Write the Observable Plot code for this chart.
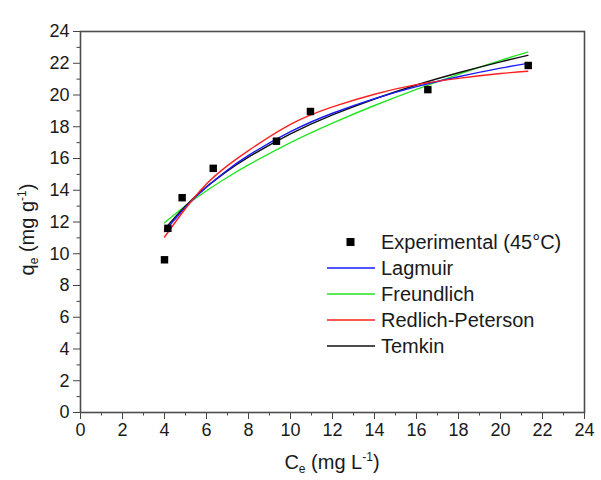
<!DOCTYPE html>
<html>
<head>
<meta charset="utf-8">
<script src="https://cdn.jsdelivr.net/npm/d3@7"></script>
<script src="https://cdn.jsdelivr.net/npm/@observablehq/plot@0.6"></script>
<style>
  body { margin: 0; background: #fff; }
</style>
</head>
<body>
<div id="chart"></div>
<script>
// Equilibrium concentration Ce (mg/L) and uptake qe (mg/g) at 45 °C
const expCe = [4.00, 4.16, 4.84, 6.32, 9.33, 10.95, 16.54, 21.32];
const expQe = [9.62, 11.60, 13.53, 15.38, 17.09, 18.96, 20.34, 21.86];

// Fitted isotherm curves, sampled along Ce
const fitCe        = [4, 5, 6, 7, 8, 10, 12, 14, 16, 18, 20, 21.3];
const langmuirQe   = [11.40, 12.93, 14.21, 15.28, 16.20, 17.69, 18.85, 19.77, 20.53, 21.15, 21.69, 21.99];
const freundlichQe = [11.95, 13.02, 13.97, 14.82, 15.60, 17.00, 18.23, 19.34, 20.36, 21.30, 22.18, 22.70];
const redlichQe    = [11.05, 12.85, 14.40, 15.55, 16.50, 18.15, 19.25, 20.05, 20.65, 21.05, 21.35, 21.50];
const temkinQe     = [11.55, 13.01, 14.21, 15.22, 16.09, 17.55, 18.75, 19.75, 20.63, 21.40, 22.09, 22.50];

const majorTicks = [0, 2, 4, 6, 8, 10, 12, 14, 16, 18, 20, 22, 24];
const minorTicks = [1, 3, 5, 7, 9, 11, 13, 15, 17, 19, 21, 23];

const seriesNames  = ["Lagmuir", "Freundlich", "Redlich-Peterson", "Temkin"];
const seriesColors = ["#1a1aff", "#22e622", "#ff1f1f", "#111111"];
const expLabel = "Experimental (45°C)";

const experimental = expCe.map((c, i) => ({ce: c, qe: expQe[i]}));
const curves = [langmuirQe, freundlichQe, redlichQe, temkinQe].map((qs, k) =>
  fitCe.map((c, i) => ({ce: c, qe: qs[i], model: seriesNames[k]}))
);

const FONT = "'Liberation Sans', Arial, sans-serif";

// Legend drawn inside the frame
function legend(index, scales, values, dims) {
  const g = d3.create("svg:g")
    .attr("font-family", FONT)
    .attr("font-size", 20)
    .attr("text-anchor", "start")
    .attr("fill", "#1a1a1a");
  const x0 = dims.marginLeft + 247;
  const y0 = dims.marginTop + 211;
  const rowH = 26;
  g.append("rect")
    .attr("x", x0 + 19.5).attr("y", y0 - 4)
    .attr("width", 8).attr("height", 8)
    .attr("fill", "#000");
  g.append("text")
    .attr("x", x0 + 54).attr("y", y0)
    .attr("dy", "0.35em")
    .text(expLabel);
  seriesNames.forEach((name, i) => {
    const y = y0 + rowH * (i + 1);
    g.append("line")
      .attr("x1", x0).attr("x2", x0 + 48)
      .attr("y1", y).attr("y2", y)
      .attr("stroke", seriesColors[i])
      .attr("stroke-width", 1.4);
    g.append("text")
      .attr("x", x0 + 54).attr("y", y)
      .attr("dy", "0.35em")
      .text(name);
  });
  return g.node();
}

// Axis titles with sub/superscripts
function axisTitles(index, scales, values, dims) {
  const g = d3.create("svg:g")
    .attr("font-family", FONT)
    .attr("font-size", 20)
    .attr("fill", "#1a1a1a");
  const cx = (dims.marginLeft + dims.width - dims.marginRight) / 2;
  const xt = g.append("text")
    .attr("x", cx).attr("y", dims.height - 11)
    .attr("text-anchor", "middle");
  xt.append("tspan").text("C");
  xt.append("tspan").attr("font-size", 12).attr("dy", 4).text("e");
  xt.append("tspan").attr("dy", -4).text(" (mg L");
  xt.append("tspan").attr("font-size", 12).attr("dy", -8).text("-1");
  xt.append("tspan").attr("dy", 8).text(")");

  const cy = (dims.marginTop + dims.height - dims.marginBottom) / 2 + 8;
  const yt = g.append("text")
    .attr("transform", `translate(34,${cy}) rotate(-90)`)
    .attr("text-anchor", "middle");
  yt.append("tspan").text("q");
  yt.append("tspan").attr("font-size", 12).attr("dy", 4).text("e");
  yt.append("tspan").attr("dy", -4).text(" (mg g");
  yt.append("tspan").attr("font-size", 12).attr("dy", -8).text("-1");
  yt.append("tspan").attr("dy", 8).text(")");
  return g.node();
}

const chart = Plot.plot({
  width: 601,
  height: 480,
  marginLeft: 80,
  marginRight: 17,
  marginTop: 31,
  marginBottom: 68,
  style: {fontFamily: FONT, fontSize: "17px", color: "#1a1a1a", background: "#fff"},
  x: {domain: [0, 24]},
  y: {domain: [0, 24]},
  marks: [
    Plot.axisX({ticks: minorTicks, tickSize: 3.5, text: null, label: null, stroke: "#444"}),
    Plot.axisX({ticks: majorTicks, tickSize: 7, tickPadding: 4, label: null, stroke: "#444", fontSize: 18}),
    Plot.axisY({ticks: minorTicks, tickSize: 3.5, text: null, label: null, stroke: "#444"}),
    Plot.axisY({ticks: majorTicks, tickSize: 7, tickPadding: 4, label: null, stroke: "#444", fontSize: 18}),
    Plot.frame({stroke: "#4d4d4d", strokeWidth: 1.6}),
    Plot.line(curves[1], {x: "ce", y: "qe", stroke: seriesColors[1], strokeWidth: 1.4, curve: "natural"}),
    Plot.line(curves[3], {x: "ce", y: "qe", stroke: seriesColors[3], strokeWidth: 1.4, curve: "natural"}),
    Plot.line(curves[0], {x: "ce", y: "qe", stroke: seriesColors[0], strokeWidth: 1.4, curve: "natural"}),
    Plot.line(curves[2], {x: "ce", y: "qe", stroke: seriesColors[2], strokeWidth: 1.4, curve: "natural"}),
    Plot.dot(experimental, {x: "ce", y: "qe", symbol: "square", r: 4.2, fill: "#000", stroke: null}),
    legend,
    axisTitles
  ]
});

document.getElementById("chart").append(chart);
</script>
</body>
</html>
